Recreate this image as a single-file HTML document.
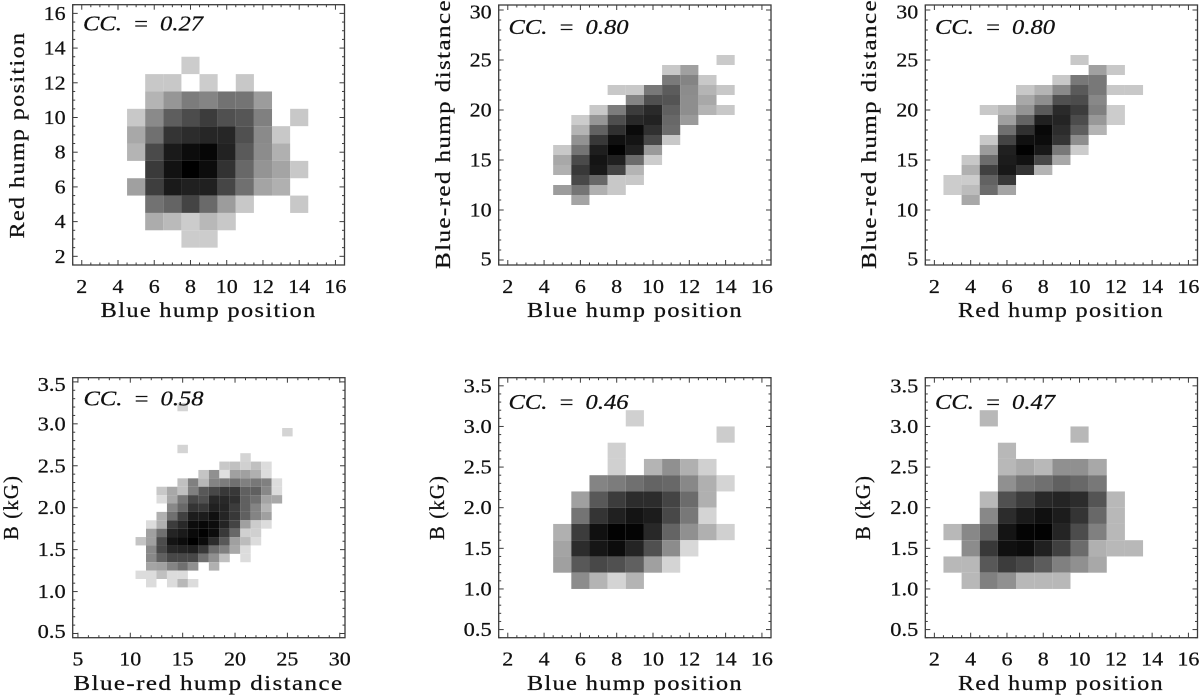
<!DOCTYPE html>
<html>
<head>
<meta charset="utf-8">
<title>Hump correlation histograms</title>
<style>
html,body{margin:0;padding:0;background:#fff;width:1200px;height:695px;overflow:hidden}
svg{display:block;filter:blur(0.35px)}
text{font-family:"Liberation Serif",serif;fill:#111;stroke:#111;stroke-width:0.25px;white-space:pre}
</style>
</head>
<body>
<svg id="figure" width="1200" height="695" viewBox="0 0 1200 695" xmlns="http://www.w3.org/2000/svg"></svg>
<script>
// Values are darkness levels (0 = empty bin, 255 = black bin).
const p1Columns = [5,6,7,8,9,10,11,12,13,14];
const p1Rows = [13,12,11,10,9,8,7,6,5,4,3];
const p1Values = [
[0,0,0,51,0,0,0,0,0,0],
[0,55,55,0,51,0,55,0,0,0],
[0,75,105,131,123,141,139,99,0,0],
[55,117,161,179,195,175,169,127,0,55],
[87,143,203,211,217,217,175,117,55,0],
[75,181,229,243,249,221,165,115,79,0],
[0,197,237,255,243,205,151,107,91,55],
[95,193,229,223,223,185,143,91,79,0],
[0,141,155,187,149,99,55,0,0,55],
[0,83,69,51,71,55,0,0,0,0],
[0,0,0,51,51,0,0,0,0,0]];

const p2Columns = [5,6,7,8,9,10,11,12,13,14];
const p2Rows = [25,24,23,22,21,20,19,18,17,16,15,14,13,12,11];
const p2Values = [
[0,0,0,0,0,0,0,0,0,53],
[0,0,0,0,0,0,55,95,0,0],
[0,0,0,0,0,0,133,123,55,0],
[0,0,0,55,55,135,163,115,75,55],
[0,0,0,0,123,175,171,113,87,0],
[0,0,55,131,195,213,159,113,75,55],
[0,51,105,177,215,221,151,101,0,0],
[0,75,157,207,245,207,147,0,0,0],
[0,109,199,239,235,183,55,0,0,0],
[55,139,225,253,223,101,0,0,0,0],
[87,181,235,223,147,51,0,0,0,0],
[79,199,231,187,75,0,0,0,0,0],
[0,183,151,55,55,0,0,0,0,0],
[99,139,79,55,0,0,0,0,0,0],
[0,91,0,0,0,0,0,0,0,0]];

const p3Columns = [3,4,5,6,7,8,9,10,11,12,13];
const p3Rows = [25,24,23,22,21,20,19,18,17,16,15,14,13,12,11];
const p3Values = [
[0,0,0,0,0,0,0,55,0,0,0],
[0,0,0,0,0,0,0,0,95,55,0],
[0,0,0,0,0,0,55,135,135,0,0],
[0,0,0,0,55,75,117,165,135,55,55],
[0,0,0,0,87,113,175,179,119,0,0],
[0,0,55,71,107,165,213,195,127,51,0],
[0,0,0,95,155,223,219,179,103,51,0],
[0,0,0,143,207,247,211,161,75,0,0],
[0,0,55,187,239,243,203,113,0,0,0],
[0,0,99,223,253,231,135,51,0,0,0],
[0,55,147,227,237,183,87,0,0,0,0],
[0,79,191,231,203,75,0,0,0,0,0],
[51,51,157,199,0,0,0,0,0,0,0],
[51,67,147,91,0,0,0,0,0,0,0],
[0,87,0,0,0,0,0,0,0,0,0]];

const p4Columns = [11,12,13,14,15,16,17,18,19,20,21,22,23,24,25];
const p4Rows = [3.2,2.9,2.7,2.6,2.5,2.4,2.3,2.2,2.1,2.0,1.9,1.8,1.7,1.6,1.5,1.4,1.3,1.2,1.1];
const p4Values = [
[0,0,0,0,43,0,0,0,0,0,0,0,0,0,0],
[0,0,0,0,0,0,0,0,0,0,0,0,0,0,43],
[0,0,0,0,43,0,0,0,0,0,0,0,0,0,0],
[0,0,0,0,0,0,0,0,0,0,43,0,0,0,0],
[0,0,0,0,0,0,0,0,55,63,47,63,35,0,0],
[0,0,0,0,0,0,59,111,31,95,95,79,35,0,0],
[0,0,0,0,63,127,71,123,131,143,127,135,127,35,0],
[0,0,55,87,63,127,167,183,199,199,159,159,119,35,0],
[0,0,35,87,135,183,175,215,215,207,159,143,91,87,0],
[0,0,0,119,151,203,199,223,219,195,159,123,75,0,0],
[0,0,79,143,191,227,227,239,219,199,159,123,95,0,0],
[0,35,79,195,215,243,247,243,219,187,95,51,35,0,0],
[0,95,143,219,229,245,253,243,199,151,47,47,0,0,0],
[59,95,179,235,243,255,243,211,167,95,67,35,0,0,0],
[0,119,183,215,219,223,199,147,127,87,35,0,0,0,0],
[0,119,159,183,183,183,143,111,63,0,35,0,0,0,0],
[0,91,95,123,143,111,0,79,0,0,0,0,0,0,0],
[35,35,63,35,35,0,0,0,0,0,0,0,0,0,0],
[0,35,0,35,71,35,0,0,0,0,0,0,0,0,0]];

const p5Columns = [5,6,7,8,9,10,11,12,13,14];
const p5Rows = [3.1,2.9,2.7,2.5,2.3,2.1,1.9,1.7,1.5,1.3,1.1];
const p5Values = [
[0,0,0,0,47,0,0,0,0,0],
[0,0,0,0,0,0,0,0,0,51],
[0,0,0,47,0,0,0,0,0,0],
[0,0,0,47,0,75,111,79,47,0],
[0,0,123,131,143,155,151,119,79,43],
[0,95,167,195,211,211,187,147,79,0],
[0,139,203,223,235,227,183,135,43,0],
[79,195,239,253,251,215,155,111,79,47],
[91,211,233,243,219,175,115,39,0,0],
[95,167,183,175,159,95,43,0,0,0],
[0,115,75,43,75,0,0,0,0,0]];

const p6Columns = [3,4,5,6,7,8,9,10,11,12,13];
const p6Rows = [3.1,2.9,2.7,2.5,2.3,2.1,1.9,1.7,1.5,1.3,1.1];
const p6Values = [
[0,0,71,0,0,0,0,0,0,0,0],
[0,0,0,0,0,0,0,71,0,0,0],
[0,0,0,71,0,0,0,0,0,0,0],
[0,0,0,71,83,71,111,111,87,0,0],
[0,0,0,111,135,143,159,151,135,0,0],
[0,0,71,175,195,215,219,211,171,71,0],
[0,0,119,211,229,239,227,203,151,71,0],
[71,119,159,235,251,253,219,179,127,71,0],
[0,115,199,239,243,223,191,147,79,71,71],
[71,71,167,195,183,163,127,111,87,0,0],
[0,71,127,111,71,71,71,0,0,0,0]];

const positionTicks = [2,4,6,8,10,12,14,16];
const distanceTicks = [5,10,15,20,25,30];
const fieldTicks = [0.5,1.0,1.5,2.0,2.5,3.0,3.5];

const panelLabels = ['blue-vs-red-position','blue-position-vs-distance','red-position-vs-distance','distance-vs-field','blue-position-vs-field','red-position-vs-field'];
const ccValues = ['0.27','0.80','0.80','0.58','0.46','0.47'];
const xTitles = ['Blue hump position','Blue hump position','Red hump position','Blue-red hump distance','Blue hump position','Red hump position'];
const yTitles = ['Red hump position','Blue-red hump distance','Blue-red hump distance','B (kG)','B (kG)','B (kG)'];

const POS = {ticks:positionTicks, min:1.5, max:16.5, minor:0.5, bin:1, dec:0};
const DIST = {ticks:distanceTicks, min:4.5, max:30.5, minor:1, bin:1, dec:0};
const FIELD_WIDE = {ticks:fieldTicks, min:0.4, max:3.6, minor:0.1, bin:0.2, dec:1};
const FIELD_FINE = {ticks:fieldTicks, min:0.45, max:3.55, minor:0.1, bin:0.1, dec:1};

const panels = [
 {cols:p1Columns, rows:p1Rows, vals:p1Values, xa:POS,  ya:POS,        box:[72.7,344.5,4.7,265],   cc:[83,30.7],  xt:[216,317,208.7], yt:[207,24,135]},
 {cols:p2Columns, rows:p2Rows, vals:p2Values, xa:POS,  ya:DIST,       box:[498.7,771,5,265],      cc:[508.5,34], xt:[216,317,635],   yt:[270,450,134]},
 {cols:p3Columns, rows:p3Rows, vals:p3Values, xa:POS,  ya:DIST,       box:[925.3,1197.5,5,265],   cc:[935,34],   xt:[206,317,1061],  yt:[270,876,134]},
 {cols:p4Columns, rows:p4Rows, vals:p4Values, xa:DIST, ya:FIELD_FINE, box:[72.7,345,377.7,637.7], cc:[83.5,405.7],xt:[270,690,208.5],yt:[65,18,507.5]},
 {cols:p5Columns, rows:p5Rows, vals:p5Values, xa:POS,  ya:FIELD_WIDE, box:[498.7,771,377.7,637.7],cc:[508.5,409],xt:[216,690,635],   yt:[65,444,507.5]},
 {cols:p6Columns, rows:p6Rows, vals:p6Values, xa:POS,  ya:FIELD_WIDE, box:[925.3,1197.5,377.7,637.7],cc:[935,409],xt:[206,690,1061], yt:[65,870,507.5]}
];

const svg = document.getElementById('figure');
const NS = 'http://www.w3.org/2000/svg';
const FRAME = '#3c3c3c';

function make(tag, parent) {
  const el = document.createElementNS(NS, tag);
  parent.appendChild(el);
  return el;
}
function put(el, key, value) { el.setAttribute(key, value); }
function labelWidth(s) {
  let w = 0;
  for (const ch of s) { w += ch === '.' ? 6 : 11; }
  return w;
}

function drawTick(parent, x1, y1, x2, y2) {
  const t = make('line', parent);
  put(t, 'x1', x1); put(t, 'y1', y1); put(t, 'x2', x2); put(t, 'y2', y2);
  put(t, 'stroke', FRAME); put(t, 'stroke-width', 1);
  
  
}

panels.forEach(function (p, idx) {
  const L = p.box[0], R = p.box[1], T = p.box[2], B = p.box[3];
  const sx = function (v) { return L + (v - p.xa.min) / (p.xa.max - p.xa.min) * (R - L); };
  const sy = function (v) { return B - (v - p.ya.min) / (p.ya.max - p.ya.min) * (B - T); };

  const g = make('g', svg);
  
  

  // heatmap cells
  const cells = make('g', g);
  
  
  p.rows.forEach(function (rowVal, r) {
    p.cols.forEach(function (colVal, c) {
      const v = p.vals[r][c];
      if (!v) return;
      const cell = make('rect', cells);
      const x0 = sx(colVal - p.xa.bin / 2), x1 = sx(colVal + p.xa.bin / 2);
      const y0 = sy(rowVal + p.ya.bin / 2), y1 = sy(rowVal - p.ya.bin / 2);
      const gray = 255 - v;
      put(cell, 'x', x0.toFixed(2)); put(cell, 'y', y0.toFixed(2));
      put(cell, 'width', (x1 - x0).toFixed(2)); put(cell, 'height', (y1 - y0).toFixed(2));
      put(cell, 'fill', 'rgb(' + gray + ',' + gray + ',' + gray + ')');
      
      
    });
  });

  // frame
  const frame = make('rect', g);
  put(frame, 'x', L); put(frame, 'y', T); put(frame, 'width', R - L); put(frame, 'height', B - T);
  put(frame, 'fill', 'none'); put(frame, 'stroke', FRAME); put(frame, 'stroke-width', 1.3);
  
  

  // ticks
  const ticks = make('g', g);
  
  
  const xMajor = p.xa.ticks, yMajor = p.ya.ticks;
  const xCount = Math.round((p.xa.max - p.xa.min) / p.xa.minor);
  for (let i = 0; i <= xCount; i++) {
    const v = Math.ceil(p.xa.min / p.xa.minor - 1e-6) * p.xa.minor + i * p.xa.minor;
    if (v > p.xa.max) break;
    const major = xMajor.some(function (m) { return Math.abs(m - v) < 1e-6; });
    const len = major ? 5 : 2.5;
    drawTick(ticks, sx(v), B, sx(v), B - len);
    drawTick(ticks, sx(v), T, sx(v), T + len);
  }
  const yCount = Math.round((p.ya.max - p.ya.min) / p.ya.minor);
  for (let i = 0; i <= yCount; i++) {
    const v = Math.ceil(p.ya.min / p.ya.minor - 1e-6) * p.ya.minor + i * p.ya.minor;
    if (v > p.ya.max) break;
    const major = yMajor.some(function (m) { return Math.abs(m - v) < 1e-6; });
    const len = major ? 5 : 2.5;
    drawTick(ticks, L, sy(v), L + len, sy(v));
    drawTick(ticks, R, sy(v), R - len, sy(v));
  }

  // tick labels
  const rowTickY = B + 28;
  xMajor.forEach(function (v) {
    const t = make('text', g);
    const s = v.toFixed(p.xa.dec);
    put(t, 'x', sx(v)); put(t, 'y', rowTickY);
    put(t, 'text-anchor', 'middle'); put(t, 'font-size', 20.5);
    put(t, 'textLength', labelWidth(s)); put(t, 'lengthAdjust', 'spacingAndGlyphs');
    t.textContent = s;
    
    
  });
  yMajor.forEach(function (v) {
    const t = make('text', g);
    const s = v.toFixed(p.ya.dec);
    const cy = Math.min(Math.max(sy(v), T + 7), B - 6);
    put(t, 'x', L - 7 - labelWidth(s)); put(t, 'y', cy + 6.5);
    put(t, 'font-size', 20.5);
    put(t, 'textLength', labelWidth(s)); put(t, 'lengthAdjust', 'spacingAndGlyphs');
    t.textContent = s;
    
    
  });

  // titles
  const xt = make('text', g);
  put(xt, 'x', p.xt[2] - p.xt[0] / 2); put(xt, 'y', p.xt[1]);
  put(xt, 'font-size', 21); put(xt, 'letter-spacing', 1.2);
  put(xt, 'textLength', p.xt[0]); put(xt, 'lengthAdjust', 'spacingAndGlyphs');
  xt.textContent = xTitles[idx];
  
  

  const yt = make('text', g);
  put(yt, 'transform', 'translate(' + p.yt[1] + ',' + (p.yt[2] + p.yt[0] / 2) + ') rotate(-90)');
  put(yt, 'font-size', 21); put(yt, 'letter-spacing', 1.2);
  put(yt, 'textLength', p.yt[0]); put(yt, 'lengthAdjust', 'spacingAndGlyphs');
  yt.textContent = yTitles[idx];
  
  

  // correlation annotation
  const cc = make('text', g);
  put(cc, 'x', p.cc[0]); put(cc, 'y', p.cc[1]);
  put(cc, 'font-size', 21); put(cc, 'font-style', 'italic');
  put(cc, 'word-spacing', 4);
  put(cc, 'textLength', 120); put(cc, 'lengthAdjust', 'spacingAndGlyphs');
  cc.textContent = 'CC. = ' + ccValues[idx];
  
  
});
</script>
</body>
</html>
